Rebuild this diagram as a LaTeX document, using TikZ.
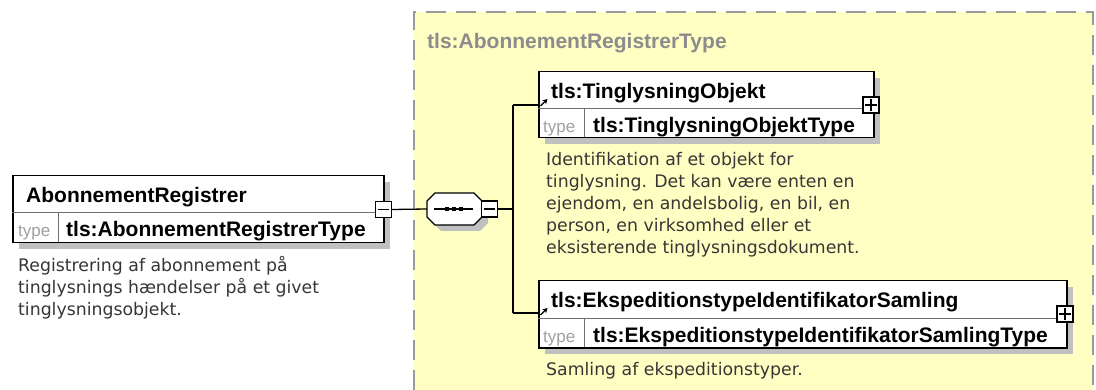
\documentclass[tikz,border=0pt]{standalone}
\usepackage{fontspec}
\setmainfont{DejaVu Sans}
\newfontfamily\namefont{Liberation Sans}
\usetikzlibrary{arrows.meta,shadows}
\definecolor{XSYellow}{HTML}{FFFFC4}
\definecolor{XSDash}{HTML}{9A9A9A}
\definecolor{XSShadow}{HTML}{C0C0C0}
\definecolor{XSInner}{HTML}{6E6E6E}
\definecolor{XSText}{HTML}{363636}
\definecolor{XSType}{HTML}{A0A0A0}
\definecolor{XSTitle}{HTML}{8C8C8C}
\tikzset{
  elbox/.style={draw=black,line width=1.5pt,fill=white,inner sep=0pt,anchor=north west,
    drop shadow={shadow xshift=6pt,shadow yshift=-6pt,fill=XSShadow,opacity=1}},
  pmbox/.style={draw=black,line width=1.2pt,fill=white,minimum size=16pt,inner sep=0pt},
  conn/.style={line width=1.3pt},
  divline/.style={XSInner,line width=1pt},
  elname/.style={anchor=base west,inner sep=0pt,font=\namefont\bfseries\fontsize{21}{24}\selectfont},
  typetag/.style={anchor=base west,inner sep=0pt,text=XSType,font=\namefont\fontsize{17}{20}\selectfont},
  elnote/.style={anchor=north west,inner sep=0pt,align=left,text=XSText,font=\fontsize{17.3}{22}\selectfont},
  refarrow/.style={-{Stealth[length=5pt,width=5.5pt]},line width=1.3pt}
}

\begin{document}
\begin{tikzpicture}[x=1pt,y=-1pt]
\path[use as bounding box] (0,0) rectangle (1096,390);
\fill[white] (0,0) rectangle (1096,390);
% complex type container
\fill[XSYellow] (414,12) rectangle (1093,390);
\draw[XSDash,line width=2pt,dash pattern=on 20pt off 10pt] (414,390) -- (414,12) -- (1093,12) -- (1093,390);
\node[elname,text=XSTitle] (ctype) at (427,48.5) {tls:AbonnementRegistrerType};

% root element
\node[elbox,minimum width=371pt,minimum height=67pt] (abon) at (12,175) {};
\draw[divline] (12,213) -- (383,213);
\draw[divline] (58,213) -- (58,242);
\node[elname] (abonN) at (26,202.5) {AbonnementRegistrer};
\node[typetag] (abonT) at (18,237) {type};
\node[elname] (abonTy) at (66,237) {tls:AbonnementRegistrerType};
\node[elnote] (abonD) at (18,256.5) {Registrering af abonnement på\\tinglysnings hændelser på et givet\\tinglysningsobjekt.};
\node[pmbox] (abonM) at (383.5,209.5) {};
\draw[line width=1.2pt] ([xshift=3pt]abonM.west) -- ([xshift=-3pt]abonM.east);

% sequence compositor
\coordinate (seqL) at (427,209);
\fill[XSShadow] (441,199) -- (480,199) -- (488,207) -- (488,223) -- (480,231) -- (441,231) -- (433,223) -- (433,207) -- cycle;
\draw[line width=1.3pt,fill=white] (435,193) -- (474,193) -- (482,201) -- (482,217) -- (474,225) -- (435,225) -- (427,217) -- (427,201) -- cycle;
\draw[line width=1.1pt] (434,209) -- (473,209);
\foreach \dx in {447,454,461}
  \fill (\dx-2.4,206.6) rectangle (\dx+2.4,211.4);
\node[pmbox] (seqM) at (489.5,209) {};
\draw[line width=1.2pt] ([xshift=3pt]seqM.west) -- ([xshift=-3pt]seqM.east);
\draw[conn] (abonM.east) -- (seqL);

% child elements
\node[elbox,minimum width=335pt,minimum height=66pt] (tingl) at (538,71) {};
\draw[divline] (538,109) -- (873,109);
\draw[divline] (584,109) -- (584,137);
\node[elname] (tinglN) at (551,98.5) {tls:TinglysningObjekt};
\node[typetag] (tinglT) at (543,133) {type};
\node[elname] (tinglTy) at (593,133) {tls:TinglysningObjektType};
\node[elnote] (tinglD) at (546,152) {Identifikation af et objekt for\\tinglysning. Det kan være enten en\\ejendom, en andelsbolig, en bil, en\\person, en virksomhed eller et\\eksisterende tinglysningsdokument.};
\node[pmbox] (tinglP) at (871,105) {};
\draw[line width=1.2pt] ([xshift=3pt]tinglP.west) -- ([xshift=-3pt]tinglP.east)
  ([yshift=-3pt]tinglP.north) -- ([yshift=3pt]tinglP.south);
\draw[refarrow] (540.5,106) -- (547.5,99);

\node[elbox,minimum width=528pt,minimum height=67pt] (ekspe) at (538,280) {};
\draw[divline] (538,319) -- (1066,319);
\draw[divline] (584,319) -- (584,347);
\node[elname] (ekspeN) at (551,307.5) {tls:EkspeditionstypeIdentifikatorSamling};
\node[typetag] (ekspeT) at (543,342) {type};
\node[elname] (ekspeTy) at (593,342) {tls:EkspeditionstypeIdentifikatorSamlingType};
\node[elnote] (ekspeD) at (546,362) {Samling af ekspeditionstyper.};
\node[pmbox] (ekspeP) at (1065,314) {};
\draw[line width=1.2pt] ([xshift=3pt]ekspeP.west) -- ([xshift=-3pt]ekspeP.east)
  ([yshift=-3pt]ekspeP.north) -- ([yshift=3pt]ekspeP.south);
\draw[refarrow] (540.5,315) -- (547.5,308);

% connectors
\coordinate (fork) at (513,209);
\coordinate (forkT) at (513,105);
\coordinate (forkB) at (513,313);
\draw[conn] (seqM.east) -- (fork);
\draw[conn] (forkT) -- (forkB);
\draw[conn] (forkT) -- (tingl.west |- forkT);
\draw[conn] (forkB) -- (ekspe.west |- forkB);
\end{tikzpicture}
\end{document}
